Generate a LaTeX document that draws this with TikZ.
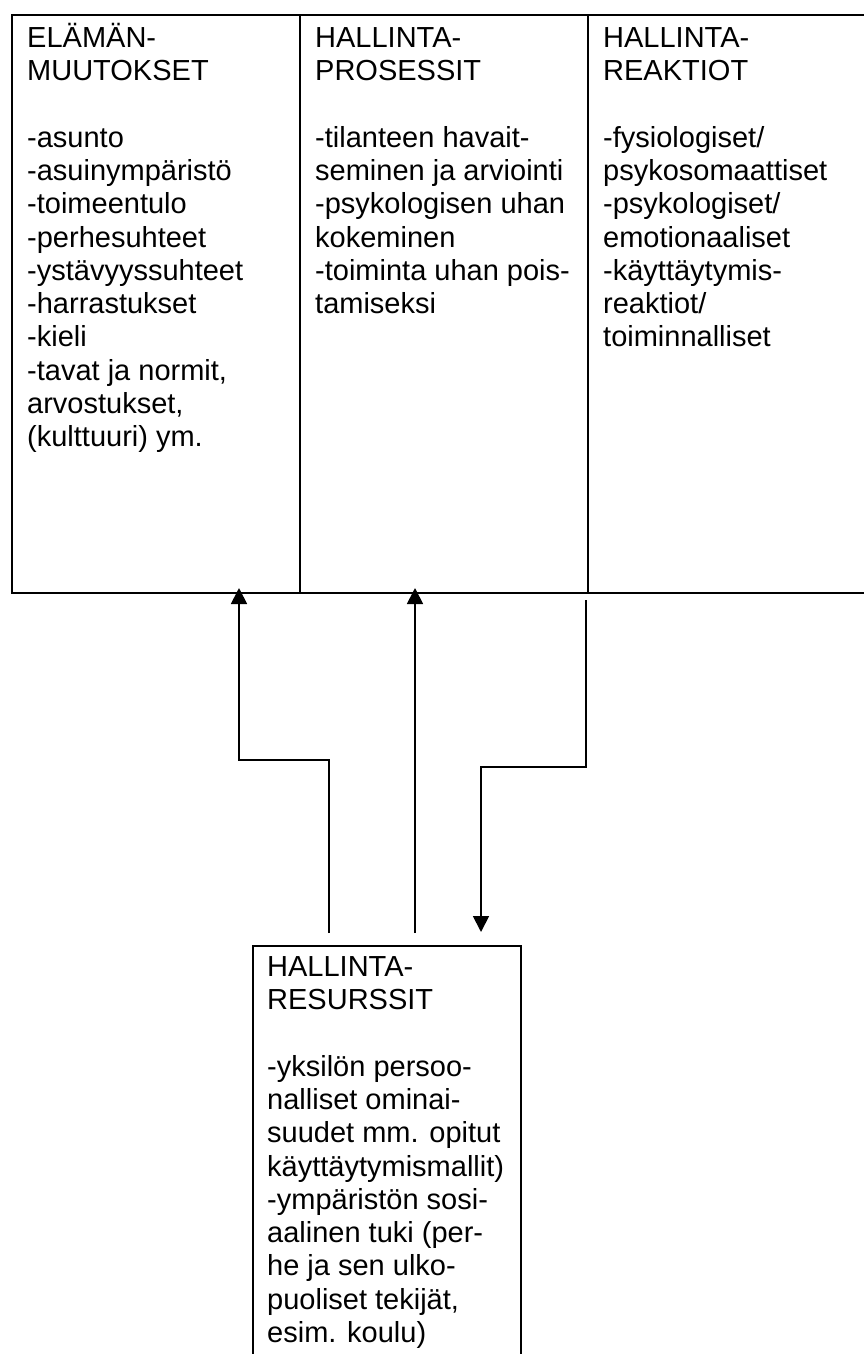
\documentclass[tikz,border=0pt]{standalone}
\usepackage{fontspec}
\setmainfont{Liberation Sans}
\usetikzlibrary{arrows.meta}
\newcommand\topstrut{\rule{0pt}{30pt}}
\begin{document}
\begin{tikzpicture}[x=1pt,y=-1pt,
  frame/.style={line width=1.8pt, line cap=rect},
  conn/.style={line width=1.8pt, line join=miter},
  arr/.style={conn,-{Triangle[width=16pt,length=16pt]}},
  txt/.style={font=\fontsize{29}{33.3}\selectfont, align=left, inner sep=0pt, anchor=north west}]
\useasboundingbox (0,0) rectangle (864,1354);
% table frame
\coordinate (tl) at (12,15);
\coordinate (tr) at (864,15);
\coordinate (bl) at (12,593);
\coordinate (br) at (864,593);
\coordinate (d1t) at (300,15);
\coordinate (d1b) at (300,593);
\coordinate (d2t) at (588,15);
\coordinate (d2b) at (588,593);
\draw[frame] (tr) -- (tl) -- (bl) -- (br);
\draw[frame] (d1t) -- (d1b);
\draw[frame] (d2t) -- (d2b);
% bottom box
\coordinate (rbl) at (253,1360);
\coordinate (rtl) at (253,946);
\coordinate (rtr) at (521,946);
\coordinate (rbr) at (521,1360);
\draw[frame] (rbl) -- (rtl) -- (rtr) -- (rbr);
% texts
\node[txt] (c1) at (27,17) {\topstrut ELÄMÄN-\\MUUTOKSET\\[33.3pt]-asunto\\-asuinympäristö\\-toimeentulo\\-perhesuhteet\\-ystävyyssuhteet\\-harrastukset\\-kieli\\-tavat ja normit,\\arvostukset,\\(kulttuuri) ym.};
\node[txt] (c2) at (315,17) {\topstrut HALLINTA-\\PROSESSIT\\[33.3pt]-tilanteen havait-\\seminen ja arviointi\\-psykologisen uhan\\kokeminen\\-toiminta uhan pois-\\tamiseksi};
\node[txt] (c3) at (603,17) {\topstrut HALLINTA-\\REAKTIOT\\[33.3pt]-fysiologiset/\\psykosomaattiset\\-psykologiset/\\emotionaaliset\\-käyttäytymis-\\reaktiot/\\toiminnalliset};
\node[txt] (r) at (267,946) {\topstrut HALLINTA-\\RESURSSIT\\[33.3pt]-yksilön persoo-\\nalliset ominai-\\suudet mm. opitut\\käyttäytymismallit)\\-ympäristön sosi-\\aalinen tuki (per-\\he ja sen ulko-\\puoliset tekijät,\\esim. koulu)};
% connectors
\coordinate (s1) at (329,933);
\coordinate (k1) at (329,760);
\coordinate (k2) at (239,760);
\coordinate (e1) at (239,588);
\coordinate (s2) at (415,933);
\coordinate (e2) at (415,588);
\coordinate (s3) at (586,600);
\coordinate (k3) at (586,767);
\coordinate (k4) at (481,767);
\coordinate (e3) at (481,932);
\draw[arr] (s1) -- (k1) -- (k2) -- (e1);
\draw[arr] (s2) -- (e2);
\draw[arr] (s3) -- (k3) -- (k4) -- (e3);
\end{tikzpicture}
\end{document}
